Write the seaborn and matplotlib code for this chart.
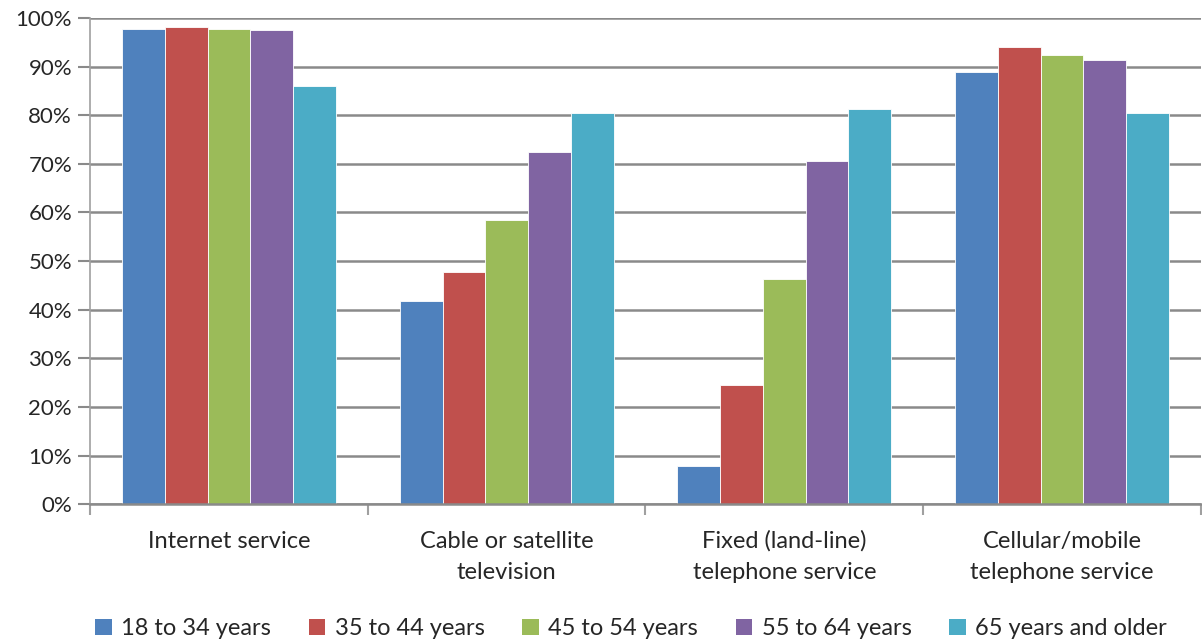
import numpy as np
import pandas as pd
import matplotlib
matplotlib.use("Agg")
import matplotlib.pyplot as plt
import seaborn as sns
from matplotlib.ticker import FixedLocator, PercentFormatter
from matplotlib.patches import Patch

categories = ["Internet service", "Cable or satellite\ntelevision",
              "Fixed (land-line)\ntelephone service", "Cellular/mobile\ntelephone service"]
age_groups = ["18 to 34 years", "35 to 44 years", "45 to 54 years",
              "55 to 64 years", "65 years and older"]

age_18_34 = [97.7, 41.8, 7.8, 88.9]
age_35_44 = [98.2, 47.7, 24.5, 94.0]
age_45_54 = [97.7, 58.4, 46.3, 92.4]
age_55_64 = [97.5, 72.5, 70.5, 91.3]
age_65_up = [86.1, 80.5, 81.3, 80.5]

COLORS = ["#4F81BD", "#C0504D", "#9BBB59", "#8064A2", "#4BACC6"]
GRID = "#8a8a8a"

sns.set_theme(style="white")
plt.rcParams["font.family"] = ["Lato", "DejaVu Sans"]

rows = []
for grp, vals in zip(age_groups, [age_18_34, age_35_44, age_45_54, age_55_64, age_65_up]):
    for cat, v in zip(categories, vals):
        rows.append({"category": cat, "age": grp, "pct": v})
df = pd.DataFrame(rows)

fig = plt.figure(figsize=(12.02, 6.43), dpi=100)
ax = fig.add_axes([0.075, 0.216, 0.924, 0.756])

sns.barplot(data=df, x="category", y="pct", hue="age", order=categories,
            hue_order=age_groups, palette=COLORS, width=0.77, saturation=1,
            edgecolor="white", linewidth=0.6, ax=ax, legend=False, errorbar=None)

ax.set_ylim(0, 100)
ax.set_xlim(-0.5, 3.5)
ax.yaxis.set_major_locator(FixedLocator(np.arange(0, 101, 10)))
ax.yaxis.set_major_formatter(PercentFormatter(decimals=0))
ax.grid(axis="y", color=GRID, lw=1.8)
ax.set_axisbelow(True)
for s in ["top", "right"]:
    ax.spines[s].set_visible(False)
ax.spines["left"].set_color("#a0a0a0")
ax.spines["left"].set_linewidth(1.2)
ax.spines["bottom"].set_color(GRID)
ax.spines["bottom"].set_linewidth(1.8)

ax.tick_params(axis="y", length=9, width=1.5, color=GRID, labelsize=16, pad=4,
               direction="out", left=True)
ax.tick_params(axis="x", which="major", length=0, labelsize=17, pad=19)
ax.xaxis.set_minor_locator(FixedLocator([-0.5, 0.5, 1.5, 2.5, 3.5]))
ax.tick_params(axis="x", which="minor", length=8, width=1.5, color="#a0a0a0",
               direction="out", bottom=True)
for lbl in ax.get_xticklabels():
    lbl.set_linespacing(1.6)
ax.set_xlabel("")
ax.set_ylabel("")

handles = [Patch(facecolor=c, edgecolor="none") for c in COLORS]
fig.legend(handles, age_groups, loc="lower center", ncol=5, frameon=False,
           fontsize=17, handlelength=0.7, handleheight=0.7, handletextpad=0.4,
           columnspacing=1.6, bbox_to_anchor=(0.525, -0.027))

fig.savefig("out.png", dpi=100, facecolor="white")
